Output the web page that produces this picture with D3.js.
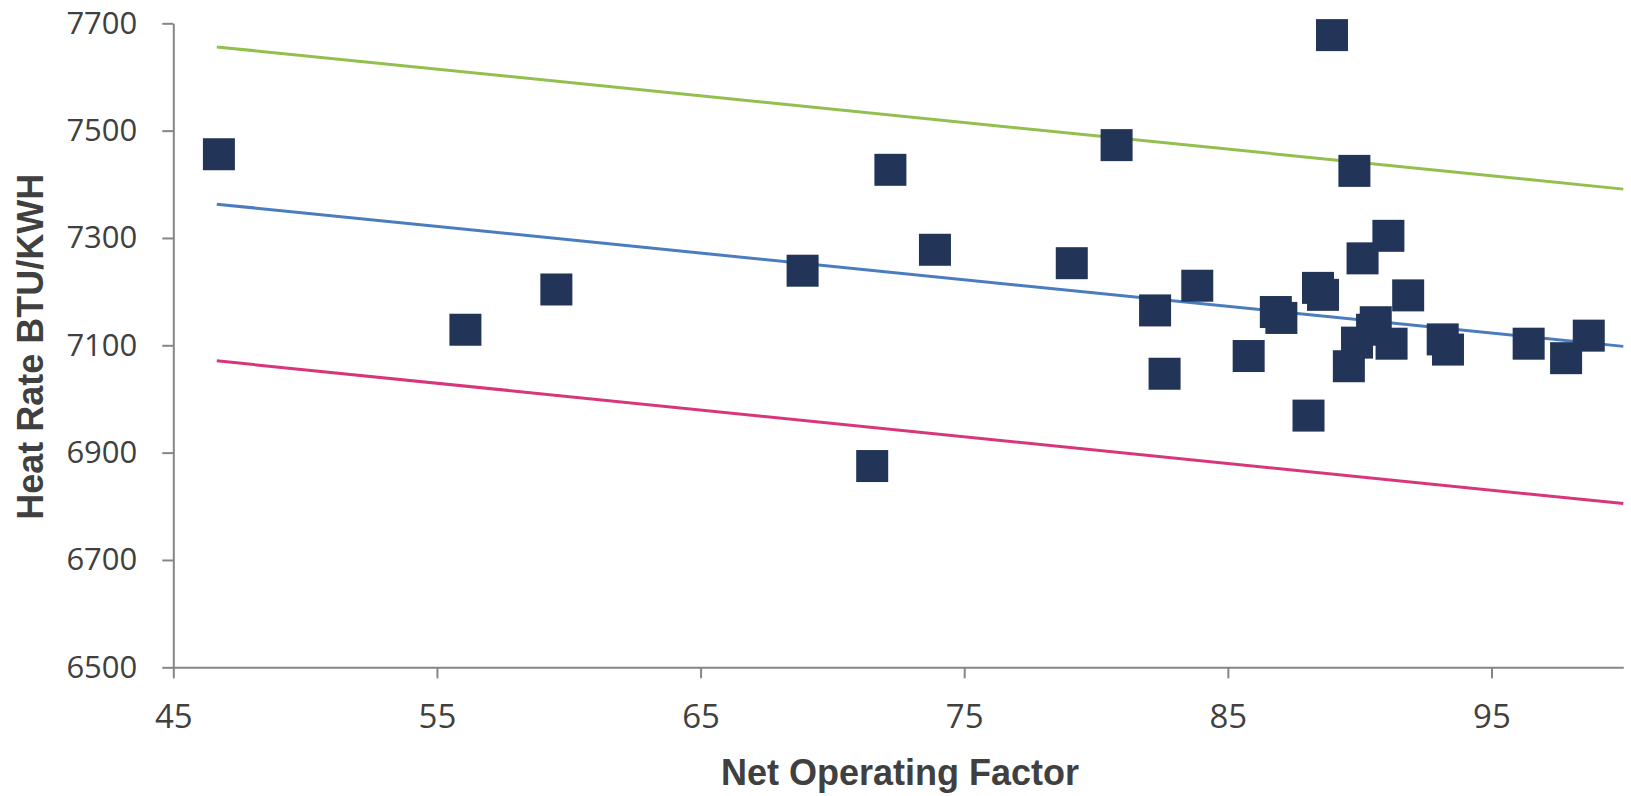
<!DOCTYPE html>
<html>
<head>
<meta charset="utf-8">
<script src="https://cdn.jsdelivr.net/npm/d3@7"></script>
<style>
  html, body { margin: 0; padding: 0; background: #ffffff; }
  svg { display: block; }
</style>
</head>
<body>
<svg id="chart" width="1631" height="796"></svg>
<script>
// ---- Data ----
const netOperatingFactor = [
  46.73, 56.08, 59.53, 68.87, 71.51, 72.20, 73.89, 79.08, 80.78, 82.24,
  82.60, 83.84, 85.79, 86.82, 87.03, 88.06, 88.42, 88.61, 88.95, 89.59,
  89.80, 89.90, 90.11, 90.47, 90.61, 91.09, 91.21, 91.84, 93.15, 93.35,
  96.41, 97.83, 98.69
];
const heatRate = [
  7456, 7129, 7204, 7239, 6875, 7427, 7278, 7253, 7473, 7165,
  7047, 7211, 7080, 7162, 7151, 6969, 7207, 7194, 7678, 7061,
  7425, 7105, 7262, 7129, 7143, 7304, 7103, 7193, 7111, 7092,
  7103, 7076, 7118
];
const trendX = [46.65, 100];
const fitLine = [7363, 7098];
const upperLimit = [7656, 7391];
const lowerLimit = [7071, 6805];
const xTicks = [45, 55, 65, 75, 85, 95];
const yTicks = [6500, 6700, 6900, 7100, 7300, 7500, 7700];
const xDomain = [45, 100];
const yDomain = [6500, 7700];

(function () {
  // ---- Layout ----
  const svg = d3.select("#chart");
  const plotLeft = 173.3, plotRight = 1623.3, plotTop = 23.3, plotBottom = 667.3;

  const x = d3.scaleLinear().domain(xDomain).range([plotLeft, plotRight]);
  const y = d3.scaleLinear().domain(yDomain).range([plotBottom, plotTop]);

  const axisColor = "#868686";
  const textColor = "#404040";

  // Trend lines
  const lineGen = d3.line().x(d => x(d[0])).y(d => y(d[1]));
  const trends = [
    { vals: upperLimit, color: "#93bf4f" },
    { vals: fitLine, color: "#4a7cc0" },
    { vals: lowerLimit, color: "#d8367a" }
  ];
  svg.append("g").selectAll("path")
    .data(trends)
    .join("path")
    .attr("d", t => lineGen(trendX.map((xv, i) => [xv, t.vals[i]])))
    .attr("fill", "none")
    .attr("stroke", t => t.color)
    .attr("stroke-width", 3);

  // Axes
  const yAxis = d3.axisLeft(y).tickValues(yTicks).tickSize(11).tickSizeOuter(0).tickPadding(25)
    .tickFormat(d3.format("d"));
  const xAxis = d3.axisBottom(x).tickValues(xTicks).tickSize(11).tickSizeOuter(0).tickPadding(26)
    .tickFormat(d3.format("d"));

  const gy = svg.append("g").attr("transform", `translate(${plotLeft},0)`).call(yAxis);
  const gx = svg.append("g").attr("transform", `translate(0,${plotBottom})`).call(xAxis);

  [gx, gy].forEach(g => {
    g.select(".domain").attr("stroke", axisColor).attr("stroke-width", 2);
    g.selectAll(".tick line").attr("stroke", axisColor).attr("stroke-width", 2);
    g.selectAll(".tick text")
      .attr("fill", textColor)
      .style("font-family", "'Open Sans', sans-serif");
  });
  gy.selectAll(".tick text").style("font-size", "31px");
  gx.selectAll(".tick text").style("font-size", "33px");

  // Markers
  const pts = netOperatingFactor.map((v, i) => ({ x: v, y: heatRate[i] }));
  const size = 32;
  svg.append("g").selectAll("rect")
    .data(pts)
    .join("rect")
    .attr("x", d => x(d.x) - size / 2)
    .attr("y", d => y(d.y) - size / 2)
    .attr("width", size)
    .attr("height", size)
    .attr("fill", "#223558");

  // Axis titles
  svg.append("text")
    .attr("x", 900)
    .attr("y", 785)
    .attr("text-anchor", "middle")
    .attr("fill", textColor)
    .style("font-family", "'Liberation Sans', Arial, sans-serif")
    .style("font-weight", "bold")
    .style("font-size", "36px")
    .text("Net Operating Factor");

  svg.append("text")
    .attr("transform", "translate(43,346.7) rotate(-90)")
    .attr("text-anchor", "middle")
    .attr("fill", textColor)
    .style("font-family", "'Liberation Sans', Arial, sans-serif")
    .style("font-weight", "bold")
    .style("font-size", "36px")
    .text("Heat Rate BTU/KWH");
})();
</script>
</body>
</html>
